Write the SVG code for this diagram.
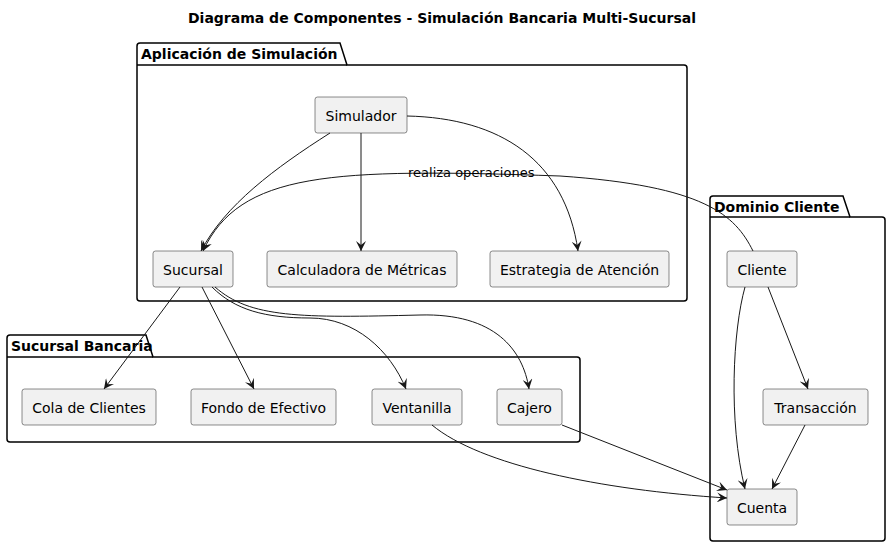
<svg xmlns="http://www.w3.org/2000/svg" width="890" height="547" viewBox="0 0 890 547">
<defs>
<marker id="ah" markerWidth="12" markerHeight="10" refX="10" refY="5" orient="auto" markerUnits="userSpaceOnUse">
<path d="M0,0 L10,5 L0,10 L4,5 Z" fill="#181818"/>
</marker>
<style>
text{font-family:"DejaVu Sans",sans-serif;fill:#000}
.t{font-size:14px;font-weight:bold}
.pk{fill:none;stroke:#000;stroke-width:1.5}
.n rect{fill:#f1f1f1;stroke:#181818;stroke-width:0.5}
.n text{font-size:14px;text-anchor:middle}
.e{fill:none;stroke:#181818;stroke-width:1;marker-end:url(#ah)}
.l{font-size:13px}
</style>
</defs>
<rect width="890" height="547" fill="#fff"/>
<text class="t" x="442" y="23" text-anchor="middle">Diagrama de Componentes - Simulación Bancaria Multi-Sucursal</text>

<g id="pkg-app">
<path class="pk" d="M137,65 L137,46 Q137,43 140,43 L340,43 L347,65 L684,65 Q687,65 687,68 L687,298 Q687,301 684,301 L140,301 Q137,301 137,298 Z"/>
<line class="pk" x1="137" y1="65" x2="347" y2="65"/>
<text class="t" x="141" y="59">Aplicación de Simulación</text>
</g>
<g id="pkg-suc">
<path class="pk" d="M7,357 L7,338 Q7,335 10,335 L146,335 L153,357 L577,357 Q580,357 580,360 L580,439 Q580,442 577,442 L10,442 Q7,442 7,439 Z"/>
<line class="pk" x1="7" y1="357" x2="153" y2="357"/>
<text class="t" x="11" y="351">Sucursal Bancaria</text>
</g>
<g id="pkg-dom">
<path class="pk" d="M710,217 L710,199 Q710,196 713,196 L843,196 L850,217 L882,217 Q885,217 885,220 L885,538 Q885,541 882,541 L713,541 Q710,541 710,538 Z"/>
<line class="pk" x1="710" y1="217" x2="850" y2="217"/>
<text class="t" x="714" y="212">Dominio Cliente</text>
</g>

<g id="simulador" class="n"><rect x="315" y="97" width="92" height="36" rx="2.5"/><text x="361" y="121">Simulador</text></g>
<g id="sucursal" class="n"><rect x="153" y="251" width="80" height="36" rx="2.5"/><text x="193" y="275">Sucursal</text></g>
<g id="calculadora" class="n"><rect x="267" y="251" width="190" height="36" rx="2.5"/><text x="362" y="275">Calculadora de Métricas</text></g>
<g id="estrategia" class="n"><rect x="490" y="251" width="179" height="36" rx="2.5"/><text x="579.5" y="275">Estrategia de Atención</text></g>
<g id="cola" class="n"><rect x="22" y="389" width="134" height="36" rx="2.5"/><text x="89" y="413">Cola de Clientes</text></g>
<g id="fondo" class="n"><rect x="191" y="389" width="145" height="36" rx="2.5"/><text x="263.5" y="413">Fondo de Efectivo</text></g>
<g id="ventanilla" class="n"><rect x="372" y="389" width="90" height="36" rx="2.5"/><text x="417" y="413">Ventanilla</text></g>
<g id="cajero" class="n"><rect x="497" y="389" width="65" height="36" rx="2.5"/><text x="529.5" y="413">Cajero</text></g>
<g id="cliente" class="n"><rect x="727" y="251" width="70" height="36" rx="2.5"/><text x="762" y="275">Cliente</text></g>
<g id="transaccion" class="n"><rect x="763" y="389" width="105" height="36" rx="2.5"/><text x="815.5" y="413">Transacción</text></g>
<g id="cuenta" class="n"><rect x="727" y="489" width="70" height="36" rx="2.5"/><text x="762" y="513">Cuenta</text></g>

<g id="connectors">
<path class="e" d="M330,133 C275,168 225,205 201,251"/>
<path class="e" d="M361,133 L361,251"/>
<path class="e" d="M407,116 C500,118 565,160 578,251"/>
<path class="e" d="M753,251 C735,215 705,186 560,176 C330,168 240,172 203,251"/>
<text class="l" x="408" y="177">realiza operaciones</text>
<path class="e" d="M180,287 L104,389"/>
<path class="e" d="M202,287 L254,389"/>
<path class="e" d="M212,287 C235,310 265,318 310,318 C355,318 390,350 406,389"/>
<path class="e" d="M215,287 C250,318 300,318 420,315 C495,313 523,350 529,389"/>
<path class="e" d="M432,425 C480,465 600,490 727,498"/>
<path class="e" d="M562,425 L727,490"/>
<path class="e" d="M745,287 C733,330 728,420 745,489"/>
<path class="e" d="M768,287 L808,389"/>
<path class="e" d="M805,425 L772,489"/>
</g>
</svg>
